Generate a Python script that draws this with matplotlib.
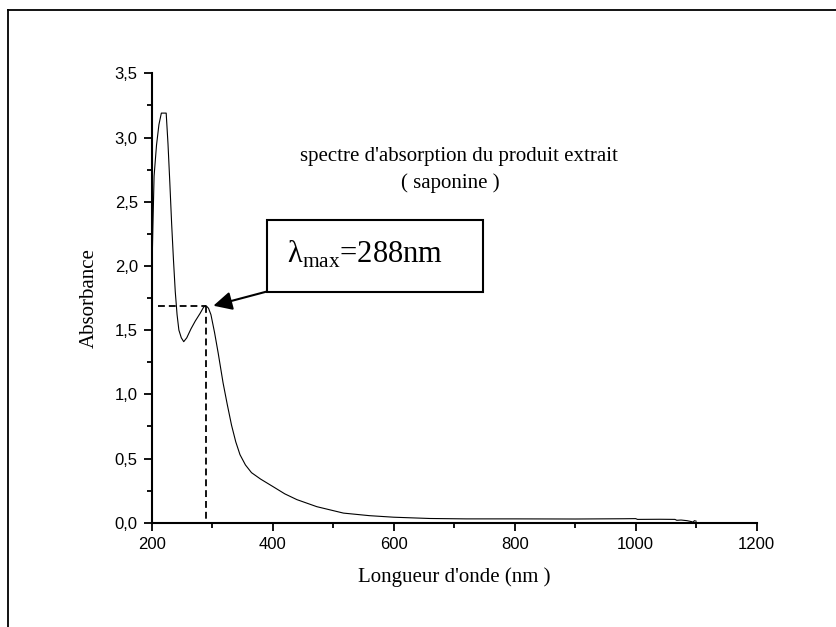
import matplotlib
matplotlib.use("Agg")
from matplotlib import pyplot as plt
from matplotlib.lines import Line2D
from matplotlib.patches import Rectangle
from matplotlib.ticker import MultipleLocator, FuncFormatter

plt.rcParams['mathtext.fontset'] = 'custom'
plt.rcParams['mathtext.rm'] = 'Liberation Serif'

# spectre UV-visible (nm, absorbance)
longueur = [200, 202, 204, 208, 212, 216, 224, 227, 230, 233, 236, 239, 242, 245,
            249, 253, 258, 265, 272, 280, 286, 290, 294, 298, 304, 310, 318, 325,
            332, 339, 346, 355, 365, 380, 401, 420, 440, 473, 517, 560, 600, 660,
            720, 800, 900, 980, 1000, 1003, 1040, 1065, 1068, 1075, 1085, 1093,
            1095, 1097, 1100]
absorbance = [1.85, 2.30, 2.70, 2.94, 3.10, 3.19, 3.19, 2.95, 2.65, 2.33, 2.05, 1.80,
              1.62, 1.50, 1.44, 1.41, 1.44, 1.51, 1.57, 1.63, 1.68, 1.69, 1.67, 1.62,
              1.48, 1.32, 1.09, 0.92, 0.76, 0.63, 0.53, 0.45, 0.39, 0.34, 0.28, 0.225,
              0.18, 0.125, 0.075, 0.055, 0.043, 0.033, 0.030, 0.030, 0.029, 0.031,
              0.032, 0.026, 0.027, 0.026, 0.019, 0.021, 0.016, 0.008, 0.004, 0.016,
              0.012]

lambda_max = 290      # position du pic
abs_max = 1.69
x_debut_pointille = 211

# boite de l'annotation (en unites des donnees)
boite_x, boite_y = 390, 1.80
boite_l, boite_h = 357, 0.557

fig = plt.figure(figsize=(8.37, 6.27), dpi=100)
ax = fig.add_axes([0.1812, 0.1663, 0.7228, 0.7168])

ax.plot(longueur, absorbance, color='black', lw=0.8)

# pointilles du maximum
ax.plot([x_debut_pointille, lambda_max], [abs_max, abs_max], color='black', lw=1.3,
        linestyle=(0, (3.8, 2.2)))
ax.plot([lambda_max, lambda_max], [abs_max, 0], color='black', lw=1.3,
        linestyle=(0, (3.8, 2.2)))

ax.add_patch(Rectangle((boite_x, boite_y), boite_l, boite_h, fill=False,
                       edgecolor='black', lw=1.5, clip_on=False))
ax.text(boite_x + 34, boite_y + boite_h * 0.52, 'λ$_{\\mathregular{max}}$=288nm',
        fontfamily='Liberation Serif', fontsize=22, va='center', ha='left')
ax.annotate('', xy=(lambda_max + 12, abs_max), xytext=(boite_x, boite_y),
            arrowprops=dict(arrowstyle='-|>', color='black', lw=1.5,
                            mutation_scale=28, shrinkA=0, shrinkB=0))

ax.text(0.245, 0.815, "spectre d'absorption du produit extrait", transform=ax.transAxes,
        fontfamily='Liberation Serif', fontsize=15, ha='left', va='center')
ax.text(0.412, 0.755, "( saponine )", transform=ax.transAxes,
        fontfamily='Liberation Serif', fontsize=15, ha='left', va='center')

ax.set_xlim(200, 1200)
ax.set_ylim(0, 3.5)
ax.xaxis.set_major_locator(MultipleLocator(200))
ax.xaxis.set_minor_locator(MultipleLocator(100))
ax.yaxis.set_major_locator(MultipleLocator(0.5))
ax.yaxis.set_minor_locator(MultipleLocator(0.25))
ax.yaxis.set_major_formatter(FuncFormatter(lambda v, p: ('%.1f' % v).replace('.', ',')))

for s in ['top', 'right']:
    ax.spines[s].set_visible(False)
for s in ['left', 'bottom']:
    ax.spines[s].set_linewidth(1.5)

ax.tick_params(which='major', direction='out', length=6, width=1.3, pad=4)
ax.tick_params(which='minor', direction='out', length=3.5, width=1.3)
for lab in ax.get_xticklabels() + ax.get_yticklabels():
    lab.set_fontfamily('Liberation Sans')
    lab.set_fontsize(12)

ax.set_xlabel("Longueur d'onde (nm )", fontfamily='Liberation Serif', fontsize=15)
ax.set_ylabel("Absorbance", fontfamily='Liberation Serif', fontsize=15)
ax.xaxis.set_label_coords(0.5, -0.1)
ax.yaxis.set_label_coords(-0.088, 0.5)

# cadre exterieur (haut et gauche seulement)
fig.add_artist(Line2D([0.0096, 1.0], [0.984, 0.984], transform=fig.transFigure,
                      color='black', lw=1.3))
fig.add_artist(Line2D([0.0096, 0.0096], [0.0, 0.984], transform=fig.transFigure,
                      color='black', lw=1.3))

fig.savefig('out.png', dpi=100)
